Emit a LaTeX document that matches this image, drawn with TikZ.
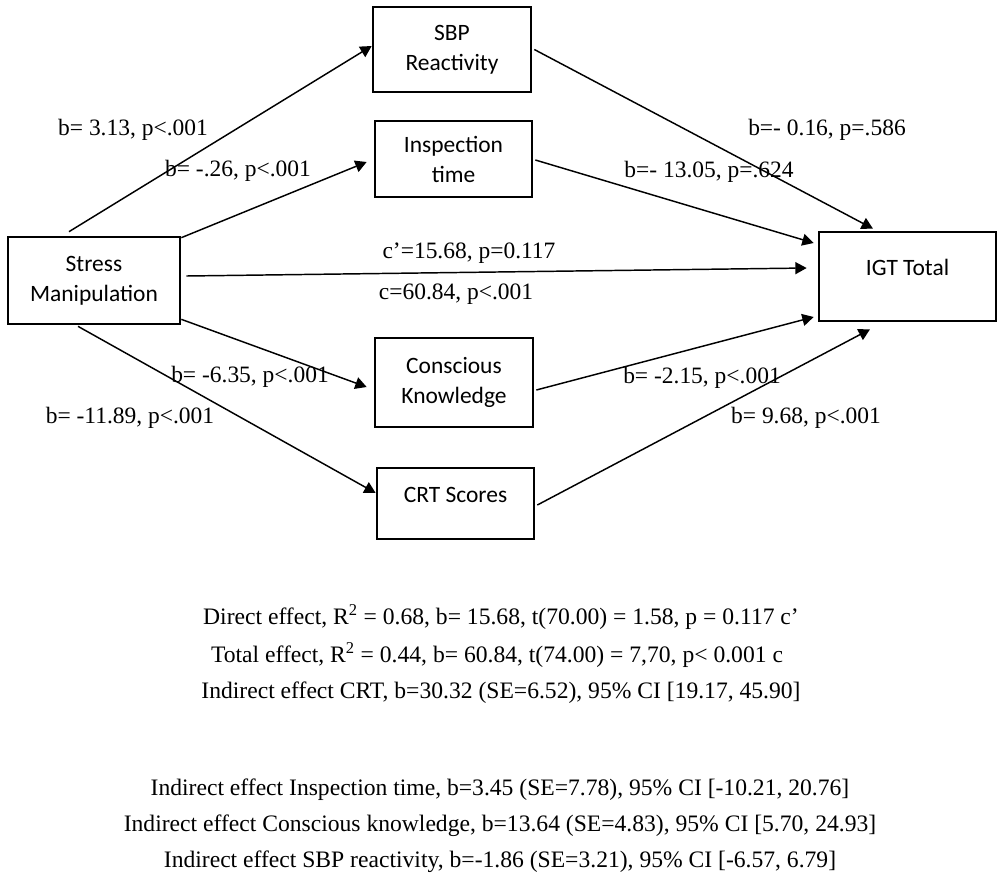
\documentclass[tikz,border=0pt]{standalone}
\usepackage{fontspec}
\setmainfont{Liberation Serif}
\newfontfamily\boxfont{Carlito}
\usetikzlibrary{arrows.meta,calc}

\tikzset{every picture/.style={line width=0.75pt}}
\tikzset{
  varbox/.style={draw, line width=2pt, align=center, inner sep=0pt, font=\boxfont\fontsize{17.6}{22.5}\selectfont},
  path arrow/.style={line width=1.1pt, -{Triangle[length=8.5pt,width=9pt]}},
  coef/.style={font=\fontsize{17.6}{20}\selectfont, inner sep=0pt},
  effect/.style={font=\fontsize{17.7}{20}\selectfont, inner sep=0pt}
}

\begin{document}
\begin{tikzpicture}[x=0.75pt,y=0.75pt,yscale=-1,xscale=1]
	\useasboundingbox (0,0) rectangle (1000,886);

	% Boxes
	\node [varbox, minimum width=129pt, minimum height=65.25pt] (stress) at (94,280.5) {Stress\\Manipulation};
	\node [varbox, minimum width=118.5pt, minimum height=63.75pt] (sbp) at (452,49.5) {SBP\\Reactivity};
	\node [varbox, minimum width=117.75pt, minimum height=57pt] (insp) at (453.5,159) {Inspection\\time};
	\node [varbox, minimum width=118.5pt, minimum height=66.75pt] (consc) at (454,382.5) {Conscious\\Knowledge};
	\node [varbox, minimum width=117.75pt, minimum height=53.25pt, text depth=13pt] (crt) at (455.5,503.5) {CRT Scores};
	\node [varbox, minimum width=132.75pt, minimum height=66.75pt, text depth=13pt] (igt) at (907.5,276.5) {IGT Total};

	% a paths
	\draw [path arrow] ($(stress.north)+(-25,-4)$) -- ($(sbp.west)+(0,-3.5)$);
	\draw [path arrow] ($(stress.north east)+(0,2)$) -- ($(insp.west)+(-7,3)$);
	\draw [path arrow] ($(stress.south east)+(0,-6)$) -- ($(consc.west)+(-7,4.5)$);
	\draw [path arrow] ($(stress.south)+(-16,1)$) -- ($(crt.west)+(0,-10.5)$);
	% direct path
	\draw [path arrow] ($(stress.east)+(5,-4.5)$) -- ($(igt.west)+(-11,-8.5)$);
	% b paths
	\draw [path arrow] ($(sbp.east)+(2,0)$) -- ($(igt.north)+(-34.5,-2)$);
	\draw [path arrow] ($(insp.east)+(2,1)$) -- ($(igt.west)+(-4,-33.5)$);
	\draw [path arrow] ($(consc.east)+(2,7.5)$) -- ($(igt.west)+(-4,40.5)$);
	\draw [path arrow] ($(crt.east)+(2,1.5)$) -- ($(igt.south)+(-37.5,7)$);

	% Text Node
	\node [coef] (a1) at (133,130) {b= 3.13, p<.001};
	% Text Node
	\node [coef] (a2) at (238,171) {b= -.26, p<.001};
	% Text Node
	\node [coef] (a3) at (250,377) {b= -6.35, p<.001};
	% Text Node
	\node [coef] (a4) at (130,418) {b= -11.89, p<.001};
	% Text Node
	\node [coef] (cdir) at (469,253) {c’=15.68, p=0.117};
	% Text Node
	\node [coef] (ctot) at (456,294) {c=60.84, p<.001};
	% Text Node
	\node [coef] (b1) at (827,130) {b=- 0.16, p=.586};
	% Text Node
	\node [coef] (b2) at (709,172) {b=- 13.05, p=.624};
	% Text Node
	\node [coef] (b3) at (702,378) {b= -2.15, p<.001};
	% Text Node
	\node [coef] (b4) at (806,418) {b= 9.68, p<.001};

	% Effects
	\node [effect] (direct) at (501,617) {Direct effect, R\textsuperscript{2} = 0.68, b= 15.68, t(70.00) = 1.58, p = 0.117 c’};
	\node [effect] (total) at (497,655) {Total effect, R\textsuperscript{2} = 0.44, b= 60.84, t(74.00) = 7,70, p< 0.001 c};
	\node [effect] (indcrt) at (501,693) {Indirect effect CRT, b=30.32 (SE=6.52), 95\% CI [19.17, 45.90]};
	\node [effect] (indinsp) at (500,790) {Indirect effect Inspection time, b=3.45 (SE=7.78), 95\% CI [-10.21, 20.76]};
	\node [effect] (indconsc) at (500,826) {Indirect effect Conscious knowledge, b=13.64 (SE=4.83), 95\% CI [5.70, 24.93]};
	\node [effect] (indsbp) at (500,862) {Indirect effect SBP reactivity, b=-1.86 (SE=3.21), 95\% CI [-6.57, 6.79]};

\end{tikzpicture}
\end{document}
